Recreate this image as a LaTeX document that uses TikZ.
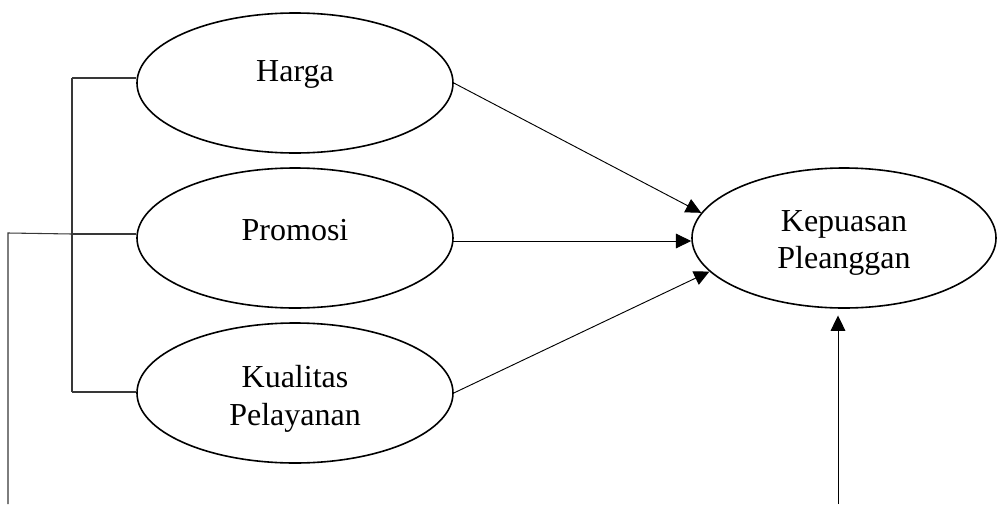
\documentclass[tikz,border=0pt]{standalone}
\usepackage{fontspec}
\setmainfont{Liberation Serif}
\usetikzlibrary{shapes.geometric,arrows.meta}
\begin{document}
\begin{tikzpicture}[x=0.75pt,y=-0.75pt,
  oval/.style={draw=black,line width=1.2pt,ellipse,inner sep=0pt,minimum width=237pt,minimum height=105pt},
  txt/.style={inner sep=0pt,align=center,font=\fontsize{24}{28}\selectfont},
  brk/.style={draw=black!78,line width=0.8pt},
  arr/.style={draw=black,line width=0.7pt,-{Triangle[length=11.5pt,width=11pt]}}]
\useasboundingbox (0,0) rectangle (997,504);
\node[oval] (harga) at (295,83) {};
\node[oval] (promosi) at (295,238) {};
\node[oval] (kualitas) at (295,393) {};
\node[oval,minimum width=228pt] (kepuasan) at (844,238) {};
\node[txt] (harga-t) at (295,74) {Harga};
\node[txt] (promosi-t) at (295,230) {Promosi};
\node[txt] (kualitas-t) at (295,399) {Kualitas\\Pelayanan};
\node[txt] (kepuasan-t) at (844,243) {Kepuasan\\Pleanggan};
% bracket
\coordinate (b1) at (72,78);
\coordinate (b2) at (72,234);
\coordinate (b3) at (72,392);
\coordinate (o1) at (8,504);
\coordinate (o2) at (8,233);
\draw[brk] (b1) -- (b3);
\draw[brk] (b1) -- (harga.west |- b1);
\draw[brk] (b2) -- (promosi.west |- b2);
\draw[brk] (b3) -- (kualitas.west |- b3);
\draw[brk] (o1) -- (o2) -- (b2);
% arrows
\coordinate (a2) at (453,241);
\draw[arr] (harga.east) -- (kepuasan.170);
\draw[arr] (a2) -- (kepuasan.west |- a2);
\draw[arr] (kualitas.east) -- (kepuasan.194);
\coordinate (u1) at (838,504);
\draw[arr,shorten >=5pt] (u1) -- (u1 |- kepuasan.south);
\end{tikzpicture}
\end{document}
